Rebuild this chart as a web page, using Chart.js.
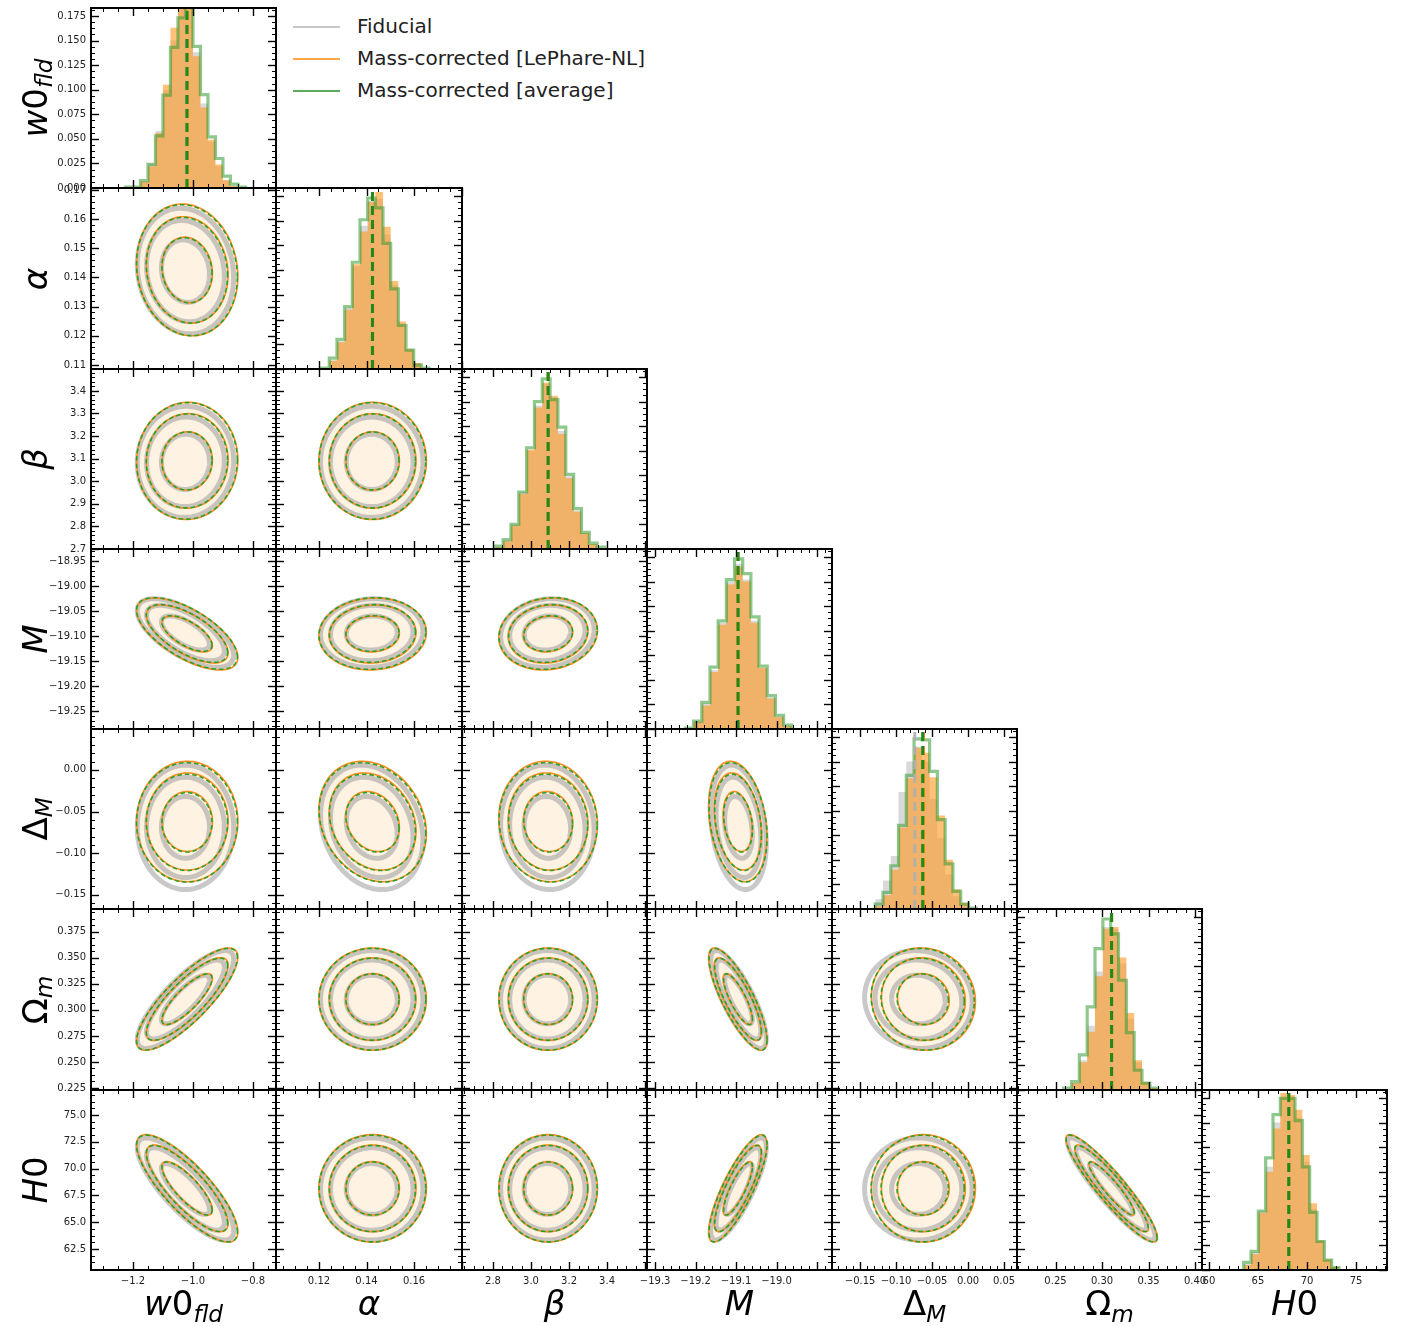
<!DOCTYPE html>
<html>
<head>
<meta charset="utf-8">
<script src="https://cdn.jsdelivr.net/npm/chart.js@4.4.1/dist/chart.umd.min.js"></script>
<style>
  html, body { margin: 0; padding: 0; background: #fff; }
  body { position: relative; width: 1411px; height: 1326px; overflow: hidden; font-family: "DejaVu Sans", sans-serif; }
  canvas { position: absolute; }
  .axlab { position: absolute; font-size: 34px; line-height: 1; white-space: nowrap; color: #000; transform: translate(-50%, -50%); }
  .axlab.rot { transform: translate(-50%, -50%) rotate(-90deg); }
  .axlab i { font-style: italic; }
  .axlab sub { font-size: 0.68em; vertical-align: -0.3em; line-height: 0; }
  .axlab.rot sub { vertical-align: -0.2em; }
  .legend { position: absolute; left: 293px; top: 11px; font-size: 20px; color: #222; }
  .legend .row { position: relative; height: 32px; width: 420px; }
  .legend .swatch { position: absolute; left: 0; top: 15px; width: 47px; height: 2px; }
  .legend .txt { position: absolute; left: 64px; top: 5px; line-height: 20px; }
</style>
</head>
<body>
<script>
// -------------------------
// DATA
// -------------------------
// parameter order: w0_fld, alpha, beta, M, Delta_M, Omega_m, H0

// column (x) limits and row (y) limits; row 0 is the histogram fraction
const X_MIN = [-1.34, 0.1019, 2.637, -19.32, -0.189, 0.2086, 59.29];
const X_MAX = [-0.723, 0.1802, 3.61, -18.863, 0.068, 0.4075, 78.16];
const Y_MIN = [0, 0.1086, 2.70, -19.286, -0.167, 0.223, 60.54];
const Y_MAX = [0.1831, 0.1707, 3.497, -18.926, 0.049, 0.397, 77.33];

// tick labels
const X_TICKS = [
  [-1.2, -1.0, -0.8],
  [0.12, 0.14, 0.16],
  [2.8, 3.0, 3.2, 3.4],
  [-19.3, -19.2, -19.1, -19.0],
  [-0.15, -0.10, -0.05, 0.00, 0.05],
  [0.25, 0.30, 0.35, 0.40],
  [60, 65, 70, 75]
];
const X_DEC = [1, 2, 1, 1, 2, 2, 0];
const Y_TICKS = [
  [0.000, 0.025, 0.050, 0.075, 0.100, 0.125, 0.150, 0.175],
  [0.11, 0.12, 0.13, 0.14, 0.15, 0.16, 0.17],
  [2.7, 2.8, 2.9, 3.0, 3.1, 3.2, 3.3, 3.4],
  [-19.25, -19.20, -19.15, -19.10, -19.05, -19.00, -18.95],
  [-0.15, -0.10, -0.05, 0.00],
  [0.225, 0.250, 0.275, 0.300, 0.325, 0.350, 0.375],
  [62.5, 65.0, 67.5, 70.0, 72.5, 75.0]
];
const Y_DEC = [3, 2, 1, 2, 2, 3, 1];

// 1D histograms: first bin edge, bin width, heights per run
const HIST_START = [-1.225, 0.1211, 2.812, -19.225, -0.129, 0.2588, 63.54];
const HIST_WIDTH = [0.025, 0.00323, 0.0412, 0.0202, 0.0108, 0.00842, 0.748];
const HIST_FID = [
  [0.000, 0.001, 0.007, 0.025, 0.058, 0.100, 0.150, 0.185, 0.185, 0.138, 0.086, 0.047, 0.022, 0.008, 0.002, 0.000],
  [0.001, 0.009, 0.028, 0.062, 0.104, 0.145, 0.170, 0.172, 0.136, 0.085, 0.046, 0.020, 0.006, 0.001],
  [0.002, 0.009, 0.025, 0.058, 0.100, 0.146, 0.168, 0.154, 0.120, 0.074, 0.039, 0.016, 0.005, 0.001],
  [0.001, 0.008, 0.026, 0.060, 0.108, 0.150, 0.168, 0.152, 0.110, 0.062, 0.032, 0.013, 0.003],
  [0.010, 0.029, 0.054, 0.119, 0.150, 0.165, 0.150, 0.112, 0.072, 0.035, 0.013, 0.004, 0.001],
  [0.001, 0.007, 0.030, 0.065, 0.120, 0.165, 0.163, 0.128, 0.072, 0.028, 0.008, 0.002],
  [0.006, 0.018, 0.060, 0.105, 0.150, 0.175, 0.175, 0.155, 0.110, 0.062, 0.030, 0.010, 0.003]
];
const HIST_LP = [
  [0.000, 0.001, 0.006, 0.022, 0.056, 0.105, 0.163, 0.190, 0.190, 0.134, 0.082, 0.049, 0.024, 0.008, 0.002, 0.000],
  [0.001, 0.008, 0.027, 0.060, 0.106, 0.139, 0.169, 0.179, 0.144, 0.089, 0.048, 0.020, 0.006, 0.001],
  [0.002, 0.008, 0.024, 0.056, 0.101, 0.144, 0.169, 0.156, 0.117, 0.072, 0.038, 0.016, 0.005, 0.001],
  [0.001, 0.007, 0.024, 0.058, 0.106, 0.147, 0.165, 0.150, 0.108, 0.062, 0.031, 0.012, 0.003],
  [0.003, 0.014, 0.040, 0.083, 0.133, 0.164, 0.159, 0.134, 0.095, 0.050, 0.020, 0.006, 0.001],
  [0.001, 0.007, 0.028, 0.059, 0.115, 0.163, 0.165, 0.134, 0.078, 0.030, 0.008, 0.002],
  [0.005, 0.016, 0.058, 0.100, 0.144, 0.180, 0.178, 0.163, 0.117, 0.068, 0.030, 0.011, 0.003]
];
const HIST_AVG = [
  [0.001, 0.001, 0.0075, 0.024, 0.053, 0.0945, 0.143, 0.173, 0.190, 0.144, 0.095, 0.052, 0.030, 0.012, 0.004, 0.001],
  [0.001, 0.011, 0.030, 0.063, 0.108, 0.151, 0.173, 0.163, 0.127, 0.081, 0.044, 0.019, 0.004, 0.001],
  [0.003, 0.0095, 0.025, 0.058, 0.103, 0.150, 0.173, 0.152, 0.124, 0.076, 0.041, 0.017, 0.006, 0.002],
  [0.001, 0.008, 0.027, 0.063, 0.110, 0.152, 0.173, 0.158, 0.114, 0.064, 0.034, 0.014, 0.004],
  [0.005, 0.017, 0.044, 0.085, 0.136, 0.173, 0.172, 0.140, 0.091, 0.046, 0.018, 0.005, 0.001],
  [0.002, 0.0085, 0.0355, 0.084, 0.143, 0.173, 0.158, 0.111, 0.058, 0.020, 0.007, 0.002],
  [0.0078, 0.019, 0.060, 0.114, 0.158, 0.1745, 0.1745, 0.152, 0.105, 0.0586, 0.029, 0.010, 0.0024]
];

// 2D contours: centre, 1-sigma width per run, pairwise correlation, levels
const MEAN_FID = [-1.025, 0.1422, 3.086, -19.094, -0.069, 0.3100, 68.10];
const MEAN_LP = [-1.019, 0.1426, 3.090, -19.096, -0.062, 0.3104, 68.16];
const MEAN_AVG = [-1.020, 0.1425, 3.090, -19.095, -0.063, 0.3103, 68.14];
const MEDIAN_FID = [-1.022, 0.1425, 3.090, -19.095, -0.074, 0.3100, 68.12];
const SIGMA_FID = [0.0530, 0.0071, 0.081, 0.0226, 0.0246, 0.0155, 1.57];
const SIGMA_LP = [0.0556, 0.00745, 0.0855, 0.0237, 0.0238, 0.0162, 1.65];
const SIGMA_AVG = [0.0554, 0.0074, 0.0850, 0.0236, 0.0236, 0.0161, 1.64];
const CORR = [
  [],
  [-0.10],
  [0.02, 0.00],
  [-0.65, 0.05, 0.10],
  [0.00, -0.20, -0.05, -0.25],
  [0.82, 0.00, 0.00, -0.80, -0.05],
  [-0.81, 0.00, 0.00, 0.82, 0.00, -0.92]
];
const LEVELS = [0.68, 0.95, 0.99];

// -------------------------
// LAYOUT / STYLE
// -------------------------
const COL_X = [91, 276, 462, 647, 832, 1017, 1202, 1387];
const ROW_Y = [8, 188, 369, 549, 729, 909, 1090, 1270];
const LABEL_W = 60, LABEL_H = 24, PAD = 10;

const C_FID_FILL = "rgba(185,185,185,0.55)";
const C_LP_FILL = "rgba(255,150,30,0.6)";
const C_AVG_LINE = "rgba(50,155,50,0.55)";
const C_CONT_FILL = "rgba(252,222,185,0.4)";

function fmt(v, dec) {
  const s = Math.abs(v).toFixed(dec);
  return (v < 0 && Number(s) !== 0 ? "\u2212" : "") + s;
}

// matplotlib AutoMinorLocator rule
function minorDivs(step) {
  const m = Math.pow(10, ((Math.log10(step) % 1) + 1) % 1);
  return [1, 5, 10].some(t => Math.abs(m - t) < 1e-4) ? 5 : 4;
}

function tickSets(major, min, max) {
  const step = major[1] - major[0];
  const n = minorDivs(step), ms = step / n;
  const maj = [], mnr = [];
  const k0 = Math.ceil((min - major[0]) / ms - 1e-9);
  const k1 = Math.floor((max - major[0]) / ms + 1e-9);
  for (let k = k0; k <= k1; k++) {
    const v = major[0] + k * ms;
    if (k % n === 0) maj.push(v); else mnr.push(v);
  }
  return { maj, mnr };
}

// bin edges -> step outline (used with stepped: "before")
function stepData(p, vals) {
  const pts = [{ x: HIST_START[p], y: 0 }];
  vals.forEach((v, k) => pts.push({ x: HIST_START[p] + k * HIST_WIDTH[p], y: v }));
  pts.push({ x: HIST_START[p] + vals.length * HIST_WIDTH[p], y: 0 });
  return pts;
}

function radius(p) {
  return Math.sqrt(-2 * Math.log(1 - p));
}

function ellipsePath(ctx, xs, ys, mx, my, sx, sy, rho, k) {
  const q = Math.sqrt(1 - rho * rho);
  ctx.beginPath();
  for (let t = 0; t <= 180; t++) {
    const a = t / 180 * 2 * Math.PI;
    const px = xs.getPixelForValue(mx + k * sx * Math.cos(a));
    const py = ys.getPixelForValue(my + k * sy * (rho * Math.cos(a) + q * Math.sin(a)));
    if (t === 0) ctx.moveTo(px, py); else ctx.lineTo(px, py);
  }
  ctx.closePath();
}

function drawContours(ctx, xs, ys, i, j) {
  const rho = CORR[j][i];
  // light fill inside the outer contour
  ellipsePath(ctx, xs, ys, MEAN_LP[i], MEAN_LP[j], SIGMA_LP[i], SIGMA_LP[j], rho, radius(LEVELS[2]));
  ctx.fillStyle = C_CONT_FILL;
  ctx.fill();

  LEVELS.forEach(p => {
    ellipsePath(ctx, xs, ys, MEAN_FID[i], MEAN_FID[j], SIGMA_FID[i], SIGMA_FID[j], rho, radius(p));
    ctx.strokeStyle = "rgba(165,165,165,0.6)";
    ctx.lineWidth = 5;
    ctx.setLineDash([]);
    ctx.stroke();
  });
  LEVELS.forEach(p => {
    ellipsePath(ctx, xs, ys, MEAN_LP[i], MEAN_LP[j], SIGMA_LP[i], SIGMA_LP[j], rho, radius(p));
    ctx.strokeStyle = "#ff8c1a";
    ctx.lineWidth = 1.6;
    ctx.setLineDash([]);
    ctx.stroke();
  });
  LEVELS.forEach(p => {
    ellipsePath(ctx, xs, ys, MEAN_AVG[i], MEAN_AVG[j], SIGMA_AVG[i], SIGMA_AVG[j], rho, radius(p));
    ctx.strokeStyle = "#2ca02c";
    ctx.lineWidth = 1.6;
    ctx.setLineDash([4.5, 3]);
    ctx.stroke();
  });
  ctx.setLineDash([]);
}

function drawMedians(ctx, ca, xs, p) {
  [[MEDIAN_FID, "rgba(175,175,175,0.9)"], [MEAN_LP, "#ff8c00"], [MEAN_AVG, "#1e8a1e"]].forEach(([m, col]) => {
    const px = xs.getPixelForValue(m[p]);
    ctx.beginPath();
    ctx.moveTo(px, ca.bottom);
    ctx.lineTo(px, ca.top);
    ctx.strokeStyle = col;
    ctx.lineWidth = 3;
    ctx.setLineDash([9, 5]);
    ctx.stroke();
  });
  ctx.setLineDash([]);
}

function drawAxes(ctx, ca, xs, ys, xt, yt) {
  ctx.save();
  ctx.strokeStyle = "#000";
  const seg = (x1, y1, x2, y2) => { ctx.beginPath(); ctx.moveTo(x1, y1); ctx.lineTo(x2, y2); ctx.stroke(); };
  const vx = v => Math.round(xs.getPixelForValue(v)) + 0.5;
  const vy = v => Math.round(ys.getPixelForValue(v)) + 0.5;
  ctx.lineWidth = 1.4;
  xt.maj.forEach(v => { const x = vx(v); seg(x, ca.bottom, x, ca.bottom - 8); seg(x, ca.top, x, ca.top + 8); });
  yt.maj.forEach(v => { const y = vy(v); seg(ca.left, y, ca.left + 8, y); seg(ca.right, y, ca.right - 8, y); });
  ctx.lineWidth = 1;
  xt.mnr.forEach(v => { const x = vx(v); seg(x, ca.bottom, x, ca.bottom - 4); seg(x, ca.top, x, ca.top + 4); });
  yt.mnr.forEach(v => { const y = vy(v); seg(ca.left, y, ca.left + 4, y); seg(ca.right, y, ca.right - 4, y); });
  ctx.lineWidth = 2;
  ctx.strokeRect(ca.left, ca.top, ca.right - ca.left, ca.bottom - ca.top);
  ctx.restore();
}

const panelPlugin = {
  id: "panel",
  afterDatasetsDraw(chart, args, opts) {
    const { ctx, chartArea: ca, scales } = chart;
    const r = opts.r, c = opts.c;
    ctx.save();
    ctx.beginPath();
    ctx.rect(ca.left, ca.top, ca.right - ca.left, ca.bottom - ca.top);
    ctx.clip();
    if (r === c) drawMedians(ctx, ca, scales.x, c);
    else drawContours(ctx, scales.x, scales.y, c, r);
    ctx.restore();
    const yr = r === c ? 0 : r;
    drawAxes(ctx, ca, scales.x, scales.y,
      tickSets(X_TICKS[c], X_MIN[c], X_MAX[c]),
      tickSets(Y_TICKS[yr], Y_MIN[yr], Y_MAX[yr]));
  }
};

// -------------------------
// PANELS
// -------------------------
function makePanel(r, c) {
  const diag = r === c;
  const left = c === 0, bottom = r === 6;
  const lw = left ? LABEL_W : 0, bh = bottom ? LABEL_H : 0;
  const pw = COL_X[c + 1] - COL_X[c], ph = ROW_Y[r + 1] - ROW_Y[r];
  const cw = pw + lw + 2 * PAD, ch = ph + bh + 2 * PAD;
  const cv = document.createElement("canvas");
  cv.width = cw; cv.height = ch;
  cv.style.left = (COL_X[c] - lw - PAD) + "px";
  cv.style.top = (ROW_Y[r] - PAD) + "px";
  cv.style.width = cw + "px"; cv.style.height = ch + "px";
  document.body.appendChild(cv);

  const yr = diag ? 0 : r;
  const datasets = diag ? [
    { data: stepData(c, HIST_AVG[c]), borderColor: C_AVG_LINE, borderWidth: 3.2, fill: false },
    { data: stepData(c, HIST_LP[c]), borderWidth: 0, borderColor: "rgba(0,0,0,0)", backgroundColor: C_LP_FILL, fill: "origin" },
    { data: stepData(c, HIST_FID[c]), borderWidth: 0, borderColor: "rgba(0,0,0,0)", backgroundColor: C_FID_FILL, fill: "origin" }
  ].map(d => Object.assign(d, { stepped: "before", pointRadius: 0, clip: 0 })) : [];

  const tickFont = { family: "DejaVu Sans", size: 10 };
  new Chart(cv, {
    type: "line",
    data: { datasets },
    options: {
      responsive: false,
      animation: false,
      devicePixelRatio: 1,
      layout: { padding: PAD },
      events: [],
      plugins: { legend: { display: false }, tooltip: { enabled: false }, panel: { r, c } },
      scales: {
        x: {
          type: "linear", min: X_MIN[c], max: X_MAX[c],
          grid: { display: false, drawTicks: false }, border: { display: false },
          ticks: { display: bottom, autoSkip: false, maxRotation: 0, minRotation: 0, padding: 5,
                   font: tickFont, color: "#222", callback: v => fmt(v, X_DEC[c]) },
          afterBuildTicks: s => { s.ticks = X_TICKS[c].map(v => ({ value: v })); },
          afterFit: s => { s.height = bh; s.paddingLeft = 0; s.paddingRight = 0; }
        },
        y: {
          type: "linear", min: Y_MIN[yr], max: Y_MAX[yr],
          grid: { display: false, drawTicks: false }, border: { display: false },
          ticks: { display: left, autoSkip: false, padding: 5,
                   font: tickFont, color: "#222", callback: v => fmt(v, Y_DEC[yr]) },
          afterBuildTicks: s => { s.ticks = Y_TICKS[yr].map(v => ({ value: v })); },
          afterFit: s => { s.width = lw; s.paddingTop = 0; s.paddingBottom = 0; }
        }
      }
    },
    plugins: [panelPlugin]
  });
}

for (let r = 0; r < 7; r++) {
  for (let c = 0; c <= r; c++) makePanel(r, c);
}

// -------------------------
// AXIS TITLES + LEGEND
// -------------------------
const TITLES = [
  "<i>w</i>0<sub><i>fld</i></sub>", "<i>\u03b1</i>", "<i>\u03b2</i>", "<i>M</i>",
  "\u0394<sub><i>M</i></sub>", "\u03a9<sub><i>m</i></sub>", "<i>H</i>0"
];
TITLES.forEach((t, k) => {
  const b = document.createElement("div");
  b.className = "axlab";
  b.innerHTML = t;
  b.style.left = ((COL_X[k] + COL_X[k + 1]) / 2) + "px";
  b.style.top = "1303px";
  document.body.appendChild(b);

  const l = document.createElement("div");
  l.className = "axlab rot";
  l.innerHTML = t;
  l.style.left = "35px";
  l.style.top = ((ROW_Y[k] + ROW_Y[k + 1]) / 2) + "px";
  document.body.appendChild(l);
});

const LEGEND = [
  ["Fiducial", "rgba(200,200,200,1)"],
  ["Mass-corrected [LePhare-NL]", "#ffa645"],
  ["Mass-corrected [average]", "#5caa5c"]
];
const lg = document.createElement("div");
lg.className = "legend";
LEGEND.forEach(([name, col]) => {
  const row = document.createElement("div");
  row.className = "row";
  row.innerHTML = '<div class="swatch" style="background:' + col + '"></div><div class="txt">' + name + "</div>";
  lg.appendChild(row);
});
document.body.appendChild(lg);
</script>
</body>
</html>
